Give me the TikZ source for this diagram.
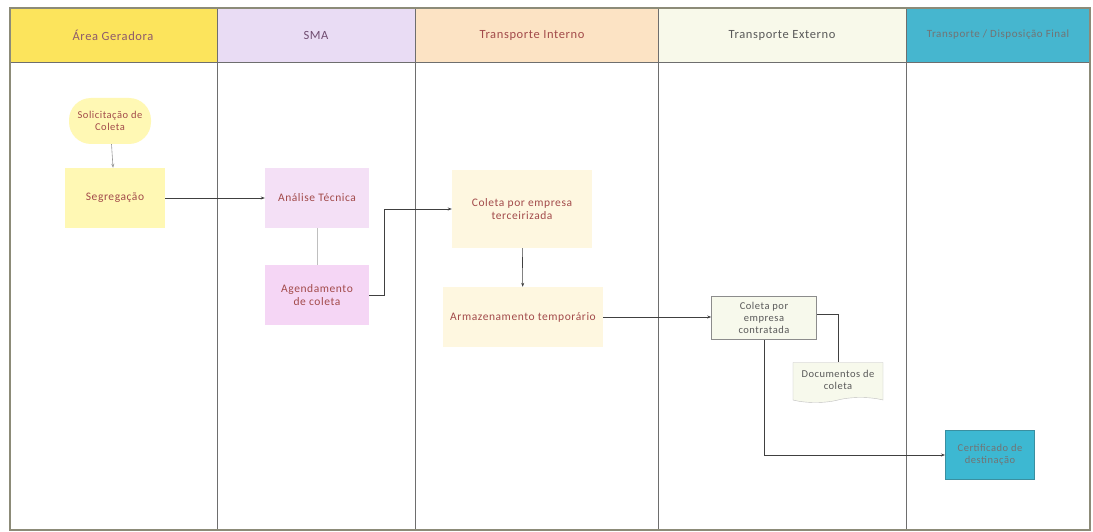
\documentclass[tikz,border=0pt]{standalone}
\usepackage{fontspec}
\setmainfont{Carlito}
\newfontfamily\spacedfont[LetterSpace=5]{Carlito}
\usetikzlibrary{arrows.meta,shapes.symbols}
\definecolor{hdrYellow}{HTML}{FCE45C}
\definecolor{hdrLilac}{HTML}{E9DCF4}
\definecolor{hdrPeach}{HTML}{FCE3C4}
\definecolor{hdrCream}{HTML}{F8F9EA}
\definecolor{hdrCyan}{HTML}{46B6CF}
\definecolor{frameCol}{HTML}{8C8B78}
\definecolor{laneLine}{HTML}{6E6E6E}
\definecolor{txtRed}{HTML}{A24A4A}
\definecolor{txtPlum}{HTML}{8E5A6C}
\definecolor{fillYellow}{HTML}{FFF8B4}
\definecolor{fillLilac}{HTML}{F4E0F6}
\definecolor{fillPink}{HTML}{F5D6F5}
\definecolor{fillCream}{HTML}{FEF7E0}
\definecolor{fillMint}{HTML}{F7F9EC}
\definecolor{fillTeal}{HTML}{3DB8D2}
\definecolor{edgeTeal}{HTML}{3A8FA0}
\tikzset{
  lbl/.style={font=\spacedfont\fontsize{11.5}{13}\selectfont, align=center},
  smalllbl/.style={font=\spacedfont\fontsize{10.5}{12}\selectfont},
  hdr/.style={lbl, font=\spacedfont\fontsize{12.5}{14}\selectfont, text=txtPlum},
  proc/.style={lbl, rectangle, inner sep=2pt, text=txtRed},
  flow/.style={draw=black!75, line width=0.6pt, -{Stealth[length=4pt,width=3pt]}},
  link/.style={draw=black!75, line width=0.6pt}
}
\begin{document}
\begin{tikzpicture}[x=1pt,y=-1pt]
\useasboundingbox (0,0) rectangle (1093,532);
\fill[white] (0,0) rectangle (1093,532);

% swimlane headers
\fill[hdrYellow] (10,8) rectangle (217,62);
\fill[hdrLilac]  (217,8) rectangle (415,62);
\fill[hdrPeach]  (415,8) rectangle (658,62);
\fill[hdrCream]  (658,8) rectangle (906,62);
\fill[hdrCyan]   (906,8) rectangle (1090,62);

\node[hdr] (h1) at (113,35) {Área Geradora};
\node[hdr, text=black!60!violet!70] (h2) at (316,35) {SMA};
\node[hdr, text=txtRed] (h3) at (532,35) {Transporte Interno};
\node[hdr, text=black!65] (h4) at (782,35) {Transporte Externo};
\node[hdr, text=black!55, font=\spacedfont\fontsize{11}{13}\selectfont] (h5) at (998,35) {Transporte / Disposição Final};

% lane borders
\draw[laneLine, line width=0.7pt] (10,62) -- (1090,62);
\foreach \xx in {217,415,658,906}
  \draw[laneLine, line width=0.7pt] (\xx,8) -- (\xx,530);
\draw[frameCol, line width=2pt] (10,8) rectangle (1090,530);

% process nodes
\node[proc, smalllbl, fill=fillYellow, rounded corners=22pt, minimum width=82pt, minimum height=46pt, inner sep=0pt] (sol) at (110,121) {Solicitação de\\Coleta};
\node[proc, fill=fillYellow, minimum width=100pt, minimum height=60pt] (seg) at (115,198) {Segregação};
\node[proc, fill=fillLilac, minimum width=104pt, minimum height=60pt] (ana) at (317,198) {Análise Técnica};
\node[proc, fill=fillPink, minimum width=104pt, minimum height=60pt] (age) at (317,295) {Agendamento\\de coleta};
\node[proc, fill=fillCream, minimum width=140pt, minimum height=78pt] (cter) at (522,209) {Coleta por empresa\\terceirizada};
\node[proc, fill=fillCream, minimum width=160pt, minimum height=60pt] (arm) at (523,317) {Armazenamento temporário};
\node[proc, smalllbl, fill=fillMint, draw=black!45, line width=0.6pt, minimum width=105pt, minimum height=43pt, text=black!65, inner sep=0pt] (ccon) at (764,318) {Coleta por\\empresa\\contratada};
\node[proc, smalllbl, tape, tape bend top=none, fill=fillMint, draw=black!25, minimum width=90pt, minimum height=40pt, text=black!65, inner sep=1pt] (doc) at (838,380) {Documentos de\\coleta};
\node[proc, smalllbl, fill=fillTeal, draw=edgeTeal, line width=1pt, minimum width=89pt, minimum height=49pt, text=black!55, inner sep=1pt] (cert) at (990,455) {Certificado de\\destinação};

% connectors
\draw[flow, draw=black!40] (sol) -- (seg);
\draw[flow] (seg) -- (ana);
\draw[link, draw=black!25] (ana) -- (age);
\draw[flow] (age.east) -- ++(15,0) |- (cter.west);
\draw[flow] (cter) -- (arm);
\draw[flow] (arm.east) -- (arm.east -| ccon.west);
\draw[link] ([yshift=4pt]ccon.east) -| (doc.north);
\draw[flow] (ccon.south) |- (cert.west);
\end{tikzpicture}
\end{document}
